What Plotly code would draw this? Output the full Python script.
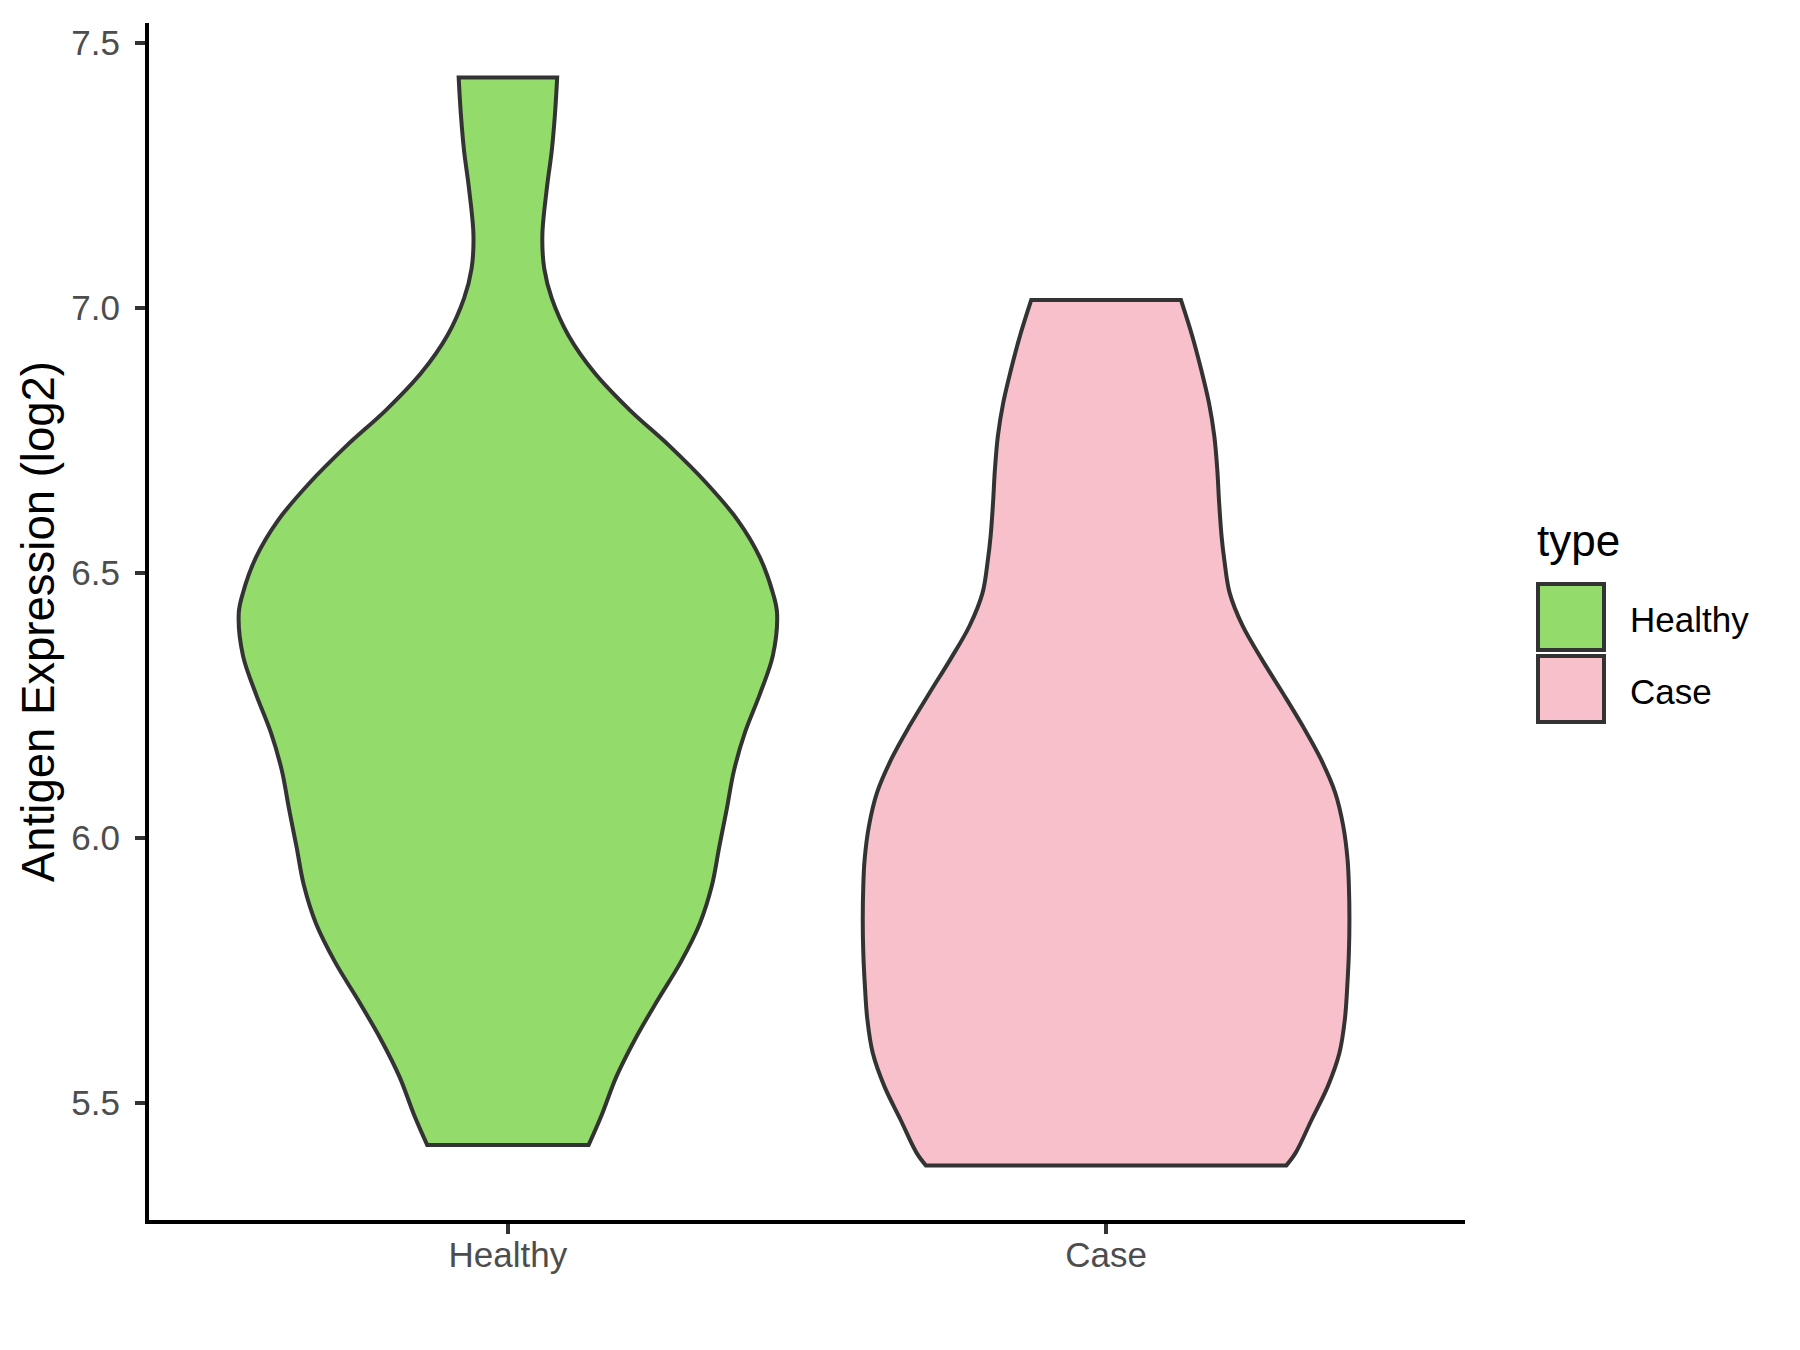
import plotly.graph_objects as go

# ---------------- data ----------------
categories = ["Healthy", "Case"]
fill_colors = ["#93DB6B", "#F7C0CB"]
legend_title = "type"
y_title = "Antigen Expression (log2)"

# density profile (relative width, 1 = widest violin)
healthy_y = [7.435, 7.367, 7.297, 7.227, 7.137, 7.074, 7.018, 6.948, 6.878, 6.808,
             6.739, 6.669, 6.599, 6.529, 6.459, 6.423, 6.343, 6.271, 6.199, 6.127,
             6.054, 5.982, 5.910, 5.838, 5.765, 5.693, 5.621, 5.549, 5.476, 5.420]
healthy_density = [0.183, 0.175, 0.163, 0.145, 0.128, 0.135, 0.163, 0.225, 0.321, 0.451,
                   0.601, 0.738, 0.854, 0.936, 0.986, 1.000, 0.984, 0.936, 0.881, 0.840,
                   0.813, 0.785, 0.758, 0.713, 0.642, 0.556, 0.474, 0.403, 0.348, 0.300]

case_y = [7.015, 6.947, 6.884, 6.821, 6.758, 6.695, 6.632, 6.569, 6.525, 6.462,
          6.400, 6.337, 6.274, 6.211, 6.148, 6.085, 6.022, 5.959, 5.909, 5.846,
          5.783, 5.720, 5.657, 5.594, 5.531, 5.468, 5.405, 5.381]
case_density = [0.278, 0.320, 0.353, 0.382, 0.402, 0.413, 0.420, 0.429, 0.439, 0.459,
                0.507, 0.578, 0.655, 0.730, 0.798, 0.851, 0.881, 0.897, 0.902, 0.904,
                0.902, 0.896, 0.887, 0.867, 0.824, 0.764, 0.704, 0.669]

y_tick_vals = [5.5, 6.0, 6.5, 7.0, 7.5]
y_tick_text = ["5.5", "6.0", "6.5", "7.0", "7.5"]

# ---------------- style ----------------
FONT = "Liberation Sans, Arial, sans-serif"
OUTLINE = "#333333"
MAX_HALF_WIDTH = 0.45
W, H = 1800, 1350
ML, MR, MT, MB = 149, 335, 23, 130

fig = go.Figure()

profiles = [(healthy_y, healthy_density), (case_y, case_density)]
for i, (cat, (ys, dens), col) in enumerate(zip(categories, profiles, fill_colors)):
    center = i + 1
    right_x = [center + d * MAX_HALF_WIDTH for d in dens]
    left_x = [center - d * MAX_HALF_WIDTH for d in reversed(dens)]
    ys_r = list(ys)
    ys_l = list(reversed(ys))
    # repeat the corner vertices so that the spline keeps sharp corners
    xs = [right_x[0]] + right_x + [right_x[-1]] + [left_x[0]] + left_x + [left_x[-1]] + [right_x[0], right_x[0]]
    yy = [ys_r[0]] + ys_r + [ys_r[-1]] + [ys_l[0]] + ys_l + [ys_l[-1]] + [ys_r[0], ys_r[0]]
    fig.add_trace(go.Scatter(
        x=xs, y=yy, mode="lines", fill="toself", fillcolor=col, name=cat,
        line=dict(color=OUTLINE, width=4, shape="spline", smoothing=1.0, simplify=False),
        showlegend=False, hoverinfo="skip"))

# y range with ggplot-like 5% expansion
all_y = healthy_y + case_y
lo, hi = min(all_y), max(all_y)
pad = (hi - lo) * 0.05

fig.update_layout(
    width=W, height=H, autosize=False,
    margin=dict(l=ML, r=MR, t=MT, b=MB, pad=0),
    paper_bgcolor="white", plot_bgcolor="white",
    font=dict(family=FONT, color="#4D4D4D", size=35),
    xaxis=dict(
        range=[0.4, len(categories) + 0.6],
        tickvals=list(range(1, len(categories) + 1)), ticktext=categories,
        showline=True, linecolor="black", linewidth=4,
        ticks="outside", ticklen=10, tickwidth=4, tickcolor=OUTLINE,
        ticklabelstandoff=-9,
        showgrid=False, zeroline=False,
        tickfont=dict(family=FONT, size=35, color="#4D4D4D"),
    ),
    yaxis=dict(
        range=[lo - pad, hi + pad],
        tickvals=y_tick_vals, ticktext=y_tick_text,
        showline=True, linecolor="black", linewidth=4,
        ticks="outside", ticklen=10, tickwidth=4, tickcolor=OUTLINE,
        ticklabelstandoff=8,
        showgrid=False, zeroline=False,
        tickfont=dict(family=FONT, size=35, color="#4D4D4D"),
        title=dict(text=y_title, font=dict(family=FONT, size=45.5, color="black"), standoff=3),
    ),
)

# ---------------- manual ggplot-style legend ----------------
pw = W - ML - MR
ph = H - MT - MB
def px_x(x):
    return (x - ML) / pw
def px_y(y):
    return (H - MB - y) / ph

fig.add_annotation(text=legend_title, x=px_x(1535), y=px_y(540), xref="paper", yref="paper",
                   xanchor="left", yanchor="middle", showarrow=False,
                   font=dict(family=FONT, size=44, color="black"))
key_top = 584
key_size = 68
for i, (cat, col) in enumerate(zip(categories, fill_colors)):
    y0 = key_top + i * (key_size + 4)
    fig.add_shape(type="rect", xref="paper", yref="paper",
                  x0=px_x(1538), x1=px_x(1538 + key_size - 2),
                  y0=px_y(y0 + key_size - 2), y1=px_y(y0),
                  fillcolor=col, line=dict(color=OUTLINE, width=4))
    fig.add_annotation(text=cat, x=px_x(1628), y=px_y(y0 + key_size / 2 + 1),
                       xref="paper", yref="paper", xanchor="left", yanchor="middle",
                       showarrow=False, font=dict(family=FONT, size=35, color="black"))

fig.write_html("out.html", config={"displayModeBar": False},
               post_script="document.body.style.margin='0';")
